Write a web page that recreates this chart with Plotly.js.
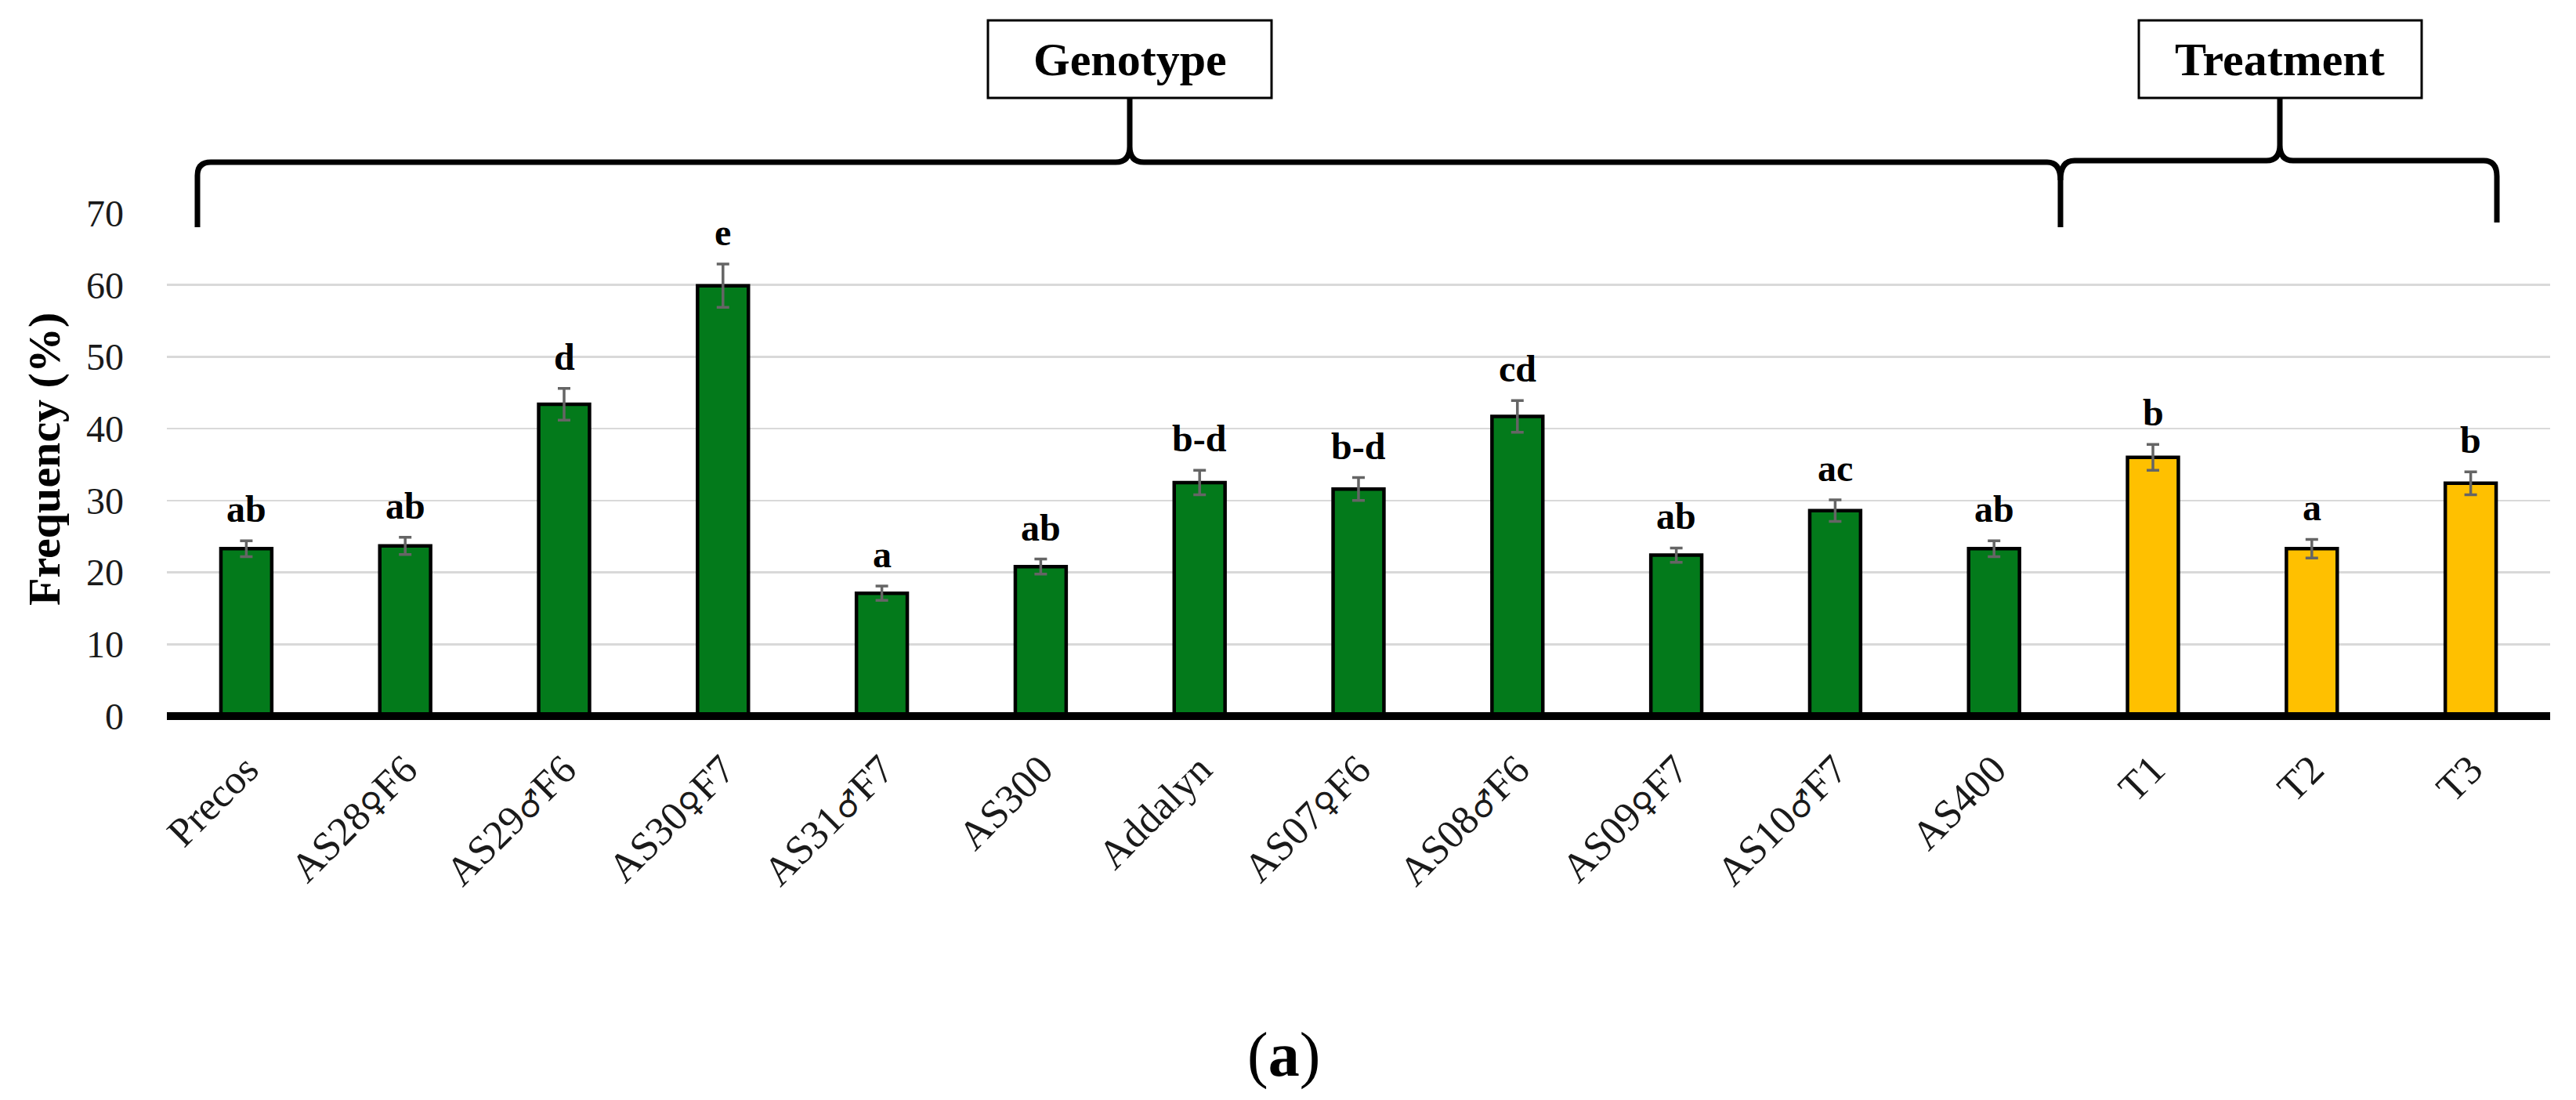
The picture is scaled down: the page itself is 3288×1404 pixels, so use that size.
<!DOCTYPE html>
<html>
<head>
<meta charset="utf-8">
<script src="https://cdn.plot.ly/plotly-3.0.1.min.js"></script>
<style>html,body{margin:0;padding:0;background:#fff;}#chart{width:3288px;height:1404px;}</style>
</head>
<body>
<div id="chart"></div>
<script>
// ---- data ----
const categories = ['Precos','AS28♀F6','AS29♂F6','AS30♀F7','AS31♂F7','AS300','Addalyn','AS07♀F6','AS08♂F6','AS09♀F7','AS10♂F7','AS400','T1','T2','T3'];
const means  = [23.3, 23.7, 43.4, 59.9, 17.1, 20.8, 32.5, 31.6, 41.7, 22.4, 28.6, 23.3, 36.0, 23.3, 32.4];
const errors = [1.1, 1.2, 2.2, 3.0, 1.0, 1.05, 1.7, 1.6, 2.2, 1.0, 1.5, 1.1, 1.8, 1.3, 1.6];
const letters = ['ab','ab','d','e','a','ab','b-d','b-d','cd','ab','ac','ab','b','a','b'];
const groups = ['Genotype','Genotype','Genotype','Genotype','Genotype','Genotype','Genotype','Genotype','Genotype','Genotype','Genotype','Genotype','Treatment','Treatment','Treatment'];
const groupColors = {Genotype: '#037A1B', Treatment: '#FFC000'};
const yTicks = [0,10,20,30,40,50,60,70];

// ---- geometry helpers (pixel -> paper) ----
const W = 3288, H = 1404;
const L = 213, R = 3255, T = 272, B = 914;
const px = X => (X - L) / (R - L);
const py = Y => (B - Y) / (B - T);
const pt = (X, Y) => px(X).toFixed(5) + ',' + py(Y).toFixed(5);

const FONT = 'Liberation Serif, Times New Roman, serif';
const symbolSpan = s => s.replace(/([♀♂])/g, '<span style="font-family:DejaVu Sans;font-size:40px">$1</span>');

const trace = {
  type: 'bar',
  x: categories.map((c, i) => i),
  y: means,
  marker: {
    color: groups.map(g => groupColors[g]),
    line: {color: '#000000', width: 4.5}
  },
  error_y: {type: 'data', array: errors, visible: true, color: '#656565', thickness: 3.5, width: 8},
  hoverinfo: 'none'
};

const annotations = letters.map((t, i) => ({
  x: i, y: means[i] + errors[i], xref: 'x', yref: 'y',
  text: '<b>' + t + '</b>', showarrow: false, yanchor: 'bottom', yshift: 12,
  font: {family: FONT, size: 48, color: '#000'}
}));

annotations.push({
  xref: 'paper', yref: 'paper', x: px(56), y: py(586), textangle: -90,
  text: '<b>Frequency (%)</b>', showarrow: false, xanchor: 'center', yanchor: 'middle',
  font: {family: FONT, size: 58, color: '#000'}
});
annotations.push({
  xref: 'paper', yref: 'paper', x: px(1442), y: py(75.5),
  text: '<b>Genotype</b>', showarrow: false, xanchor: 'center', yanchor: 'middle',
  font: {family: FONT, size: 60, color: '#000'}
});
annotations.push({
  xref: 'paper', yref: 'paper', x: px(2910), y: py(75.5),
  text: '<b>Treatment</b>', showarrow: false, xanchor: 'center', yanchor: 'middle',
  font: {family: FONT, size: 60, color: '#000'}
});
annotations.push({
  xref: 'paper', yref: 'paper', x: px(1638), y: py(1346),
  text: '(<b>a</b>)', showarrow: false, xanchor: 'center', yanchor: 'middle',
  font: {family: FONT, size: 80, color: '#000'}
});

// brace paths
const gBrace = 'M' + pt(252, 290) + ' L' + pt(252, 224) + ' Q' + pt(252, 207) + ' ' + pt(269, 207) +
  ' L' + pt(1424, 207) + ' Q' + pt(1442, 207) + ' ' + pt(1442, 187) + ' Q' + pt(1442, 207) + ' ' + pt(1460, 207) +
  ' L' + pt(2613, 207) + ' Q' + pt(2630, 207) + ' ' + pt(2630, 230) + ' L' + pt(2630, 290) +
  ' M' + pt(1442, 190) + ' L' + pt(1442, 125);
const tBrace = 'M' + pt(2630, 230) + ' Q' + pt(2630, 205) + ' ' + pt(2648, 205) +
  ' L' + pt(2893, 205) + ' Q' + pt(2910, 205) + ' ' + pt(2910, 185) + ' Q' + pt(2910, 205) + ' ' + pt(2927, 205) +
  ' L' + pt(3170, 205) + ' Q' + pt(3187, 205) + ' ' + pt(3187, 225) + ' L' + pt(3187, 284) +
  ' M' + pt(2910, 188) + ' L' + pt(2910, 125);

const shapes = [
  {type: 'line', xref: 'paper', yref: 'paper', x0: 0, x1: 1, y0: py(914), y1: py(914),
   line: {color: '#000', width: 10}, layer: 'above'},
  {type: 'path', xref: 'paper', yref: 'paper', path: gBrace, line: {color: '#000', width: 7}, layer: 'above'},
  {type: 'path', xref: 'paper', yref: 'paper', path: tBrace, line: {color: '#000', width: 7}, layer: 'above'},
  {type: 'rect', xref: 'paper', yref: 'paper', x0: px(1261), x1: px(1623), y0: py(125), y1: py(26),
   line: {color: '#000', width: 3}, fillcolor: 'rgba(255,255,255,0)', layer: 'above'},
  {type: 'rect', xref: 'paper', yref: 'paper', x0: px(2730), x1: px(3091), y0: py(125), y1: py(26),
   line: {color: '#000', width: 3}, fillcolor: 'rgba(255,255,255,0)', layer: 'above'}
];

const layout = {
  width: W, height: H,
  margin: {l: L, r: W - R, t: T, b: H - B, pad: 0},
  paper_bgcolor: '#fff', plot_bgcolor: '#fff',
  showlegend: false,
  bargap: 0.68,
  xaxis: {
    type: 'linear', range: [-0.5, categories.length - 0.5],
    tickmode: 'array', tickvals: categories.map((c, i) => i), ticktext: categories.map(symbolSpan),
    tickangle: -45, ticks: '', showgrid: false, zeroline: false, showline: false,
    ticklabelstandoff: 26,
    tickfont: {family: FONT, size: 52, color: '#1a1a1a'}
  },
  yaxis: {
    range: [0, 70], tickmode: 'array', tickvals: yTicks, ticktext: yTicks.map(String),
    showgrid: true, gridcolor: '#D9D9D9', gridwidth: 2.5, zeroline: false, showline: false,
    ticks: '', ticklabelstandoff: 54,
    tickfont: {family: FONT, size: 48, color: '#1a1a1a'}
  },
  annotations: annotations,
  shapes: shapes
};

Plotly.newPlot('chart', [trace], layout, {displayModeBar: false, staticPlot: true});
</script>
</body>
</html>
